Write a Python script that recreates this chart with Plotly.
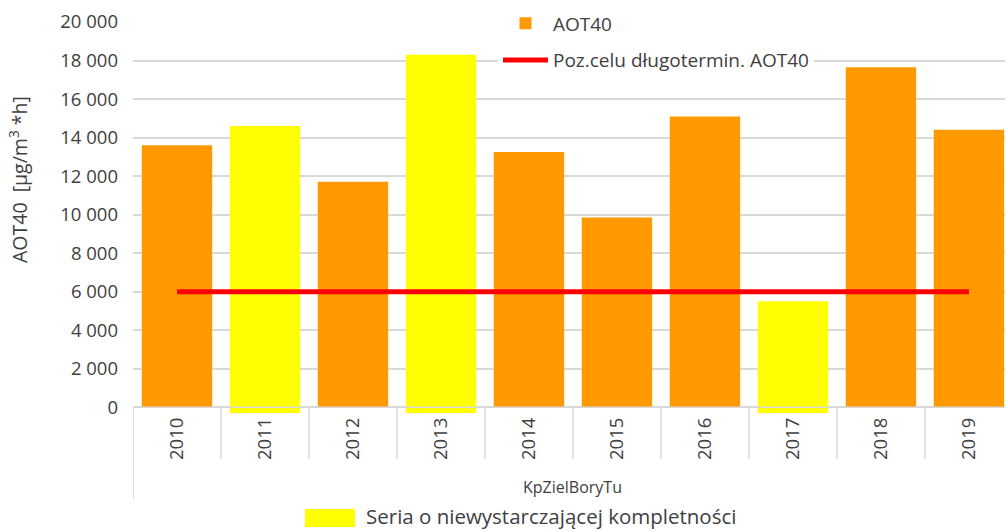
"""AOT40 per year at KpZielBoryTu, with long-term target level."""
import plotly.graph_objects as go

years = ["2010", "2011", "2012", "2013", "2014", "2015", "2016", "2017", "2018", "2019"]
aot40_complete = [13600, None, 11700, None, 13250, 9850, 15100, None, 17650, 14400]
aot40_incomplete = [None, 14600, None, 18300, None, None, None, 5500, None, None]
target_level = [6000] * len(years)
y_ticks = list(range(0, 20001, 2000))

ORANGE = "#FF9900"
YELLOW = "#FFFF00"
TEXT = "#404040"
GRID = "#D9D9D9"
FONT = "'Open Sans', Lato, sans-serif"

# plot area in pixels: left 133, top 22, bottom 413, width 872
PH = 391


def py(px):
    """pixel row -> paper y"""
    return (413 - px) / PH


def pxx(px):
    """pixel column -> paper x"""
    return (px - 133) / 872


fig = go.Figure()
fig.add_trace(go.Bar(
    x=years, y=aot40_complete, name="AOT40", legendgroup="a",
    marker=dict(color=ORANGE, line=dict(width=0)),
))
fig.add_trace(go.Bar(
    x=years, y=[v + 300 if v else None for v in aot40_incomplete], base=-300,
    name="Seria o niewystarczającej kompletności",
    marker=dict(color=YELLOW, line=dict(width=0)),
    showlegend=False,
))
fig.add_trace(go.Scatter(
    x=years, y=target_level, mode="lines", legendgroup="b",
    name="Poz.celu długotermin. AOT40",
    line=dict(color="#FF0000", width=5),
))

# category dividers below the axis
shapes = []
for i in range(len(years) + 1):
    shapes.append(dict(
        type="line", xref="x", yref="paper",
        x0=i - 0.5, x1=i - 0.5, y0=py(407), y1=py(459) if i else py(499),
        line=dict(color=GRID, width=1.5),
    ))
shapes.append(dict(type="line", xref="paper", yref="y", x0=0, x1=1, y0=0, y1=0,
                   line=dict(color=GRID, width=1.5)))
# swatch for the bottom legend
shapes.append(dict(type="rect", xref="paper", yref="paper",
                   x0=pxx(305), x1=pxx(355), y0=py(527), y1=py(509),
                   fillcolor=YELLOW, line=dict(width=0)))

fig.update_layout(
    width=1005, height=531,
    margin=dict(l=133, r=0, t=22, b=118, autoexpand=False),
    plot_bgcolor="white", paper_bgcolor="white",
    barmode="overlay", bargap=0.2,
    separators=", ",
    font=dict(family=FONT, size=17, color=TEXT),
    xaxis=dict(range=[-0.5, 9.41], tickangle=-90, showgrid=False, showline=False,
               ticks="", automargin=False, tickfont=dict(size=18.5, color=TEXT)),
    yaxis=dict(range=[-300, 20000], tickvals=y_ticks, tickformat=",d",
               showgrid=True, gridcolor=GRID, gridwidth=1.5, zeroline=False,
               ticks="", automargin=False, ticklabelstandoff=14,
               tickfont=dict(size=18.5, color=TEXT)),
    legend=dict(x=pxx(498), y=1.045, xanchor="left", yanchor="top",
                bgcolor="white", font=dict(size=19, color=TEXT),
                itemwidth=45, tracegroupgap=9),
    shapes=shapes,
    annotations=[
        dict(text="AOT40  [µg/m<sup>3</sup> *h]", textangle=-90,
             xref="paper", yref="paper", x=pxx(19), y=py(180),
             xanchor="center", yanchor="middle",
             showarrow=False, font=dict(size=19.5, color=TEXT)),
        dict(text="KpZielBoryTu", xref="paper", yref="paper",
             x=pxx(572), y=py(487), xanchor="center", yanchor="middle",
             showarrow=False, font=dict(size=16, color=TEXT)),
        dict(text="Seria o niewystarczającej kompletności", xref="paper", yref="paper",
             x=pxx(364), y=py(516), xanchor="left", yanchor="middle",
             showarrow=False, font=dict(size=20.5, color=TEXT)),
    ],
)

# drop the default page margin so the figure sits at the window's corner
fig.write_html("out.html", config={"displayModeBar": False},
               post_script="document.body.style.margin = '0';")
